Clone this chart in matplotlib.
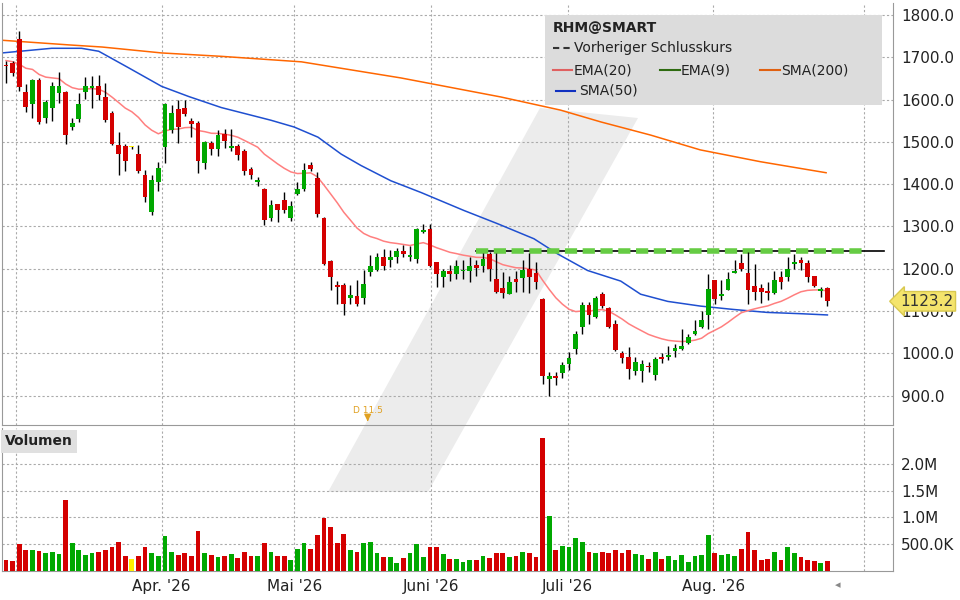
import matplotlib.pyplot as plt
import matplotlib.transforms as mtrans
from matplotlib.patches import Polygon, Rectangle
import numpy as np

# candles, one per trading day
opens = [1682, 1687, 1742, 1617, 1589, 1647, 1557, 1579, 1616, 1617, 1534, 1553, 1617, 1627, 1633, 1605,
         1569, 1492, 1490, 1489, 1471, 1421, 1335, 1405, 1488, 1528, 1577, 1581, 1550, 1544, 1449, 1497,
         1482, 1519, 1486, 1489, 1479, 1436, 1406, 1388, 1321, 1352, 1362, 1319, 1376, 1388, 1446, 1414,
         1319, 1219, 1162, 1162, 1132, 1136, 1130, 1192, 1197, 1229, 1220, 1228, 1241, 1228, 1224, 1287,
         1294, 1215, 1180, 1194, 1187, 1194, 1194, 1210, 1206, 1235, 1175, 1155, 1141, 1175, 1178, 1200,
         1190, 1128, 940, 947, 955, 974, 1011, 1062, 1115, 1086, 1140, 1108, 1069, 1000, 992, 959,
         959, 971, 950, 992, 992, 1006, 1011, 1025, 1046, 1063, 1091, 1173, 1136, 1151, 1190, 1214,
         1190, 1159, 1154, 1147, 1143, 1181, 1181, 1212, 1220, 1214, 1182, 1148, 1155]
closes = [1678, 1663, 1629, 1582, 1645, 1546, 1593, 1633, 1633, 1517, 1545, 1590, 1631, 1633, 1610, 1551,
          1496, 1472, 1454, 1488, 1432, 1370, 1409, 1439, 1589, 1567, 1536, 1565, 1541, 1455, 1499, 1484,
          1516, 1502, 1489, 1469, 1430, 1421, 1410, 1316, 1351, 1338, 1338, 1348, 1388, 1433, 1435, 1330,
          1211, 1180, 1158, 1118, 1138, 1118, 1164, 1206, 1227, 1207, 1229, 1241, 1235, 1232, 1293, 1291,
          1206, 1187, 1194, 1187, 1206, 1198, 1206, 1202, 1224, 1199, 1145, 1144, 1170, 1169, 1198, 1180,
          1169, 946, 946, 943, 972, 990, 1047, 1115, 1092, 1132, 1112, 1063, 1008, 990, 963, 979,
          975, 967, 987, 988, 996, 1013, 1018, 1038, 1054, 1079, 1152, 1129, 1140, 1175, 1196, 1200,
          1149, 1145, 1145, 1143, 1174, 1169, 1200, 1216, 1214, 1181, 1159, 1152, 1123.2]
highs = [1692, 1692, 1762, 1636, 1649, 1651, 1600, 1641, 1665, 1619, 1556, 1615, 1652, 1655, 1657, 1639,
         1573, 1524, 1496, 1491, 1492, 1433, 1421, 1452, 1591, 1587, 1599, 1599, 1556, 1549, 1503, 1503,
         1527, 1531, 1531, 1495, 1483, 1440, 1417, 1392, 1362, 1354, 1382, 1360, 1404, 1449, 1452, 1428,
         1322, 1221, 1171, 1166, 1162, 1174, 1198, 1232, 1237, 1247, 1245, 1249, 1257, 1253, 1297, 1305,
         1306, 1217, 1200, 1208, 1220, 1220, 1228, 1220, 1237, 1239, 1237, 1192, 1182, 1196, 1221, 1237,
         1216, 1130, 956, 956, 980, 1003, 1054, 1121, 1121, 1135, 1145, 1110, 1079, 1006, 1016, 992,
         984, 980, 991, 1002, 1017, 1022, 1057, 1047, 1079, 1101, 1187, 1174, 1173, 1192, 1220, 1236,
         1240, 1211, 1163, 1169, 1195, 1196, 1229, 1236, 1229, 1220, 1184, 1157, 1157]
lows = [1640, 1655, 1621, 1570, 1556, 1541, 1544, 1549, 1591, 1496, 1529, 1548, 1601, 1580, 1599, 1548,
        1492, 1421, 1432, 1484, 1427, 1359, 1327, 1385, 1451, 1520, 1498, 1562, 1512, 1427, 1436, 1468,
        1467, 1486, 1479, 1457, 1422, 1412, 1396, 1303, 1314, 1311, 1332, 1313, 1374, 1384, 1430, 1322,
        1208, 1150, 1118, 1092, 1118, 1112, 1118, 1182, 1195, 1197, 1205, 1213, 1227, 1219, 1213, 1285,
        1204, 1158, 1157, 1172, 1176, 1176, 1169, 1184, 1192, 1172, 1143, 1132, 1140, 1145, 1145, 1143,
        1153, 929, 899, 925, 942, 960, 998, 1045, 1070, 1084, 1108, 1061, 1006, 977, 939, 948,
        933, 957, 937, 977, 984, 991, 1008, 1023, 1043, 1061, 1057, 1118, 1126, 1149, 1189, 1196,
        1118, 1126, 1119, 1127, 1141, 1153, 1171, 1200, 1198, 1169, 1157, 1134, 1112]
volumes = [0.20, 0.18, 0.50, 0.40, 0.39, 0.37, 0.33, 0.35, 0.31, 1.33, 0.52, 0.40, 0.29, 0.33, 0.35, 0.39,
           0.44, 0.55, 0.28, 0.22, 0.28, 0.44, 0.33, 0.28, 0.66, 0.35, 0.29, 0.33, 0.28, 0.74, 0.33, 0.29,
           0.26, 0.28, 0.31, 0.24, 0.35, 0.28, 0.28, 0.53, 0.35, 0.28, 0.28, 0.20, 0.42, 0.53, 0.42, 0.68,
           0.99, 0.83, 0.53, 0.70, 0.39, 0.35, 0.52, 0.55, 0.33, 0.26, 0.26, 0.15, 0.24, 0.33, 0.50, 0.26,
           0.44, 0.44, 0.31, 0.22, 0.22, 0.17, 0.20, 0.20, 0.28, 0.24, 0.33, 0.33, 0.26, 0.28, 0.35, 0.33,
           0.26, 2.48, 1.03, 0.40, 0.46, 0.44, 0.61, 0.55, 0.35, 0.33, 0.35, 0.33, 0.40, 0.33, 0.40, 0.31,
           0.29, 0.22, 0.35, 0.22, 0.28, 0.20, 0.29, 0.17, 0.28, 0.29, 0.68, 0.33, 0.29, 0.31, 0.28, 0.42,
           0.72, 0.40, 0.20, 0.22, 0.35, 0.20, 0.44, 0.33, 0.26, 0.20, 0.18, 0.15, 0.18]
neutral_day = 19  # drawn in yellow

sma50_idx = [-0.6, 6.9, 11.4, 14, 18.5, 23.5, 27.6, 32.5, 40, 43.5, 47.1, 50.6, 53.6, 58.1, 62.7, 69.1,
             74.3, 79.7, 83.3, 87.8, 92.8, 95.8, 99.9, 104.8, 109.8, 114.9, 119.9, 124]
sma50_val = [1710, 1721, 1721, 1714, 1675, 1631, 1607, 1581, 1551, 1535, 1511, 1471, 1444, 1408, 1380, 1338,
             1306, 1271, 1235, 1196, 1171, 1140, 1123, 1112, 1104, 1097, 1094, 1091]
sma200_idx = [-0.6, 9.5, 14.5, 23.5, 32.5, 44.6, 59.6, 74.7, 83.7, 89.8, 97.3, 104.8, 113.9, 123.8]
sma200_val = [1740, 1729, 1724, 1710, 1702, 1689, 1651, 1606, 1575, 1547, 1516, 1481, 1453, 1427]

prev_level = 1241
prev_start = 71
month_pos = [1.5, 23.5, 43.5, 64.2, 84.8, 106.8, 129.5]
month_labels = ["", "Apr. '26", "Mai '26", "Juni '26", "Juli '26", "Aug. '26", ""]

RED = "#d40000"
GREEN = "#00a800"
GRID = dict(color="#aaaaaa", linestyle=(0, (2, 2)), linewidth=0.8)

o = np.array(opens, float)
c = np.array(closes, float)
h = np.array(highs, float)
l = np.array(lows, float)
v = np.array(volumes)
x = np.arange(len(c))
colors = [GREEN if cc > oo else RED for oo, cc in zip(o, c)]
colors[neutral_day] = "#ffee00"

ema = [c[0] + 14]
for val in c[1:]:
    ema.append(ema[-1] + (val - ema[-1]) * 2 / 21)

W, H = 960, 600
fig = plt.figure(figsize=(9.6, 6), dpi=100)
plt.rcParams["font.family"] = ["DejaVu Sans"]

# watermark
wm = Polygon([(328 / W, 1 - 492 / H), (428 / W, 1 - 492 / H), (638 / W, 1 - 118 / H), (540 / W, 1 - 108 / H)],
             closed=True, transform=fig.transFigure, facecolor="#ececec", edgecolor="none", zorder=-1)
fig.patches.append(wm)

ax = fig.add_axes([2 / W, 1 - 425 / H, 891 / W, 422 / H])
vax = fig.add_axes([2 / W, 1 - 571 / H, 891 / W, 143 / H], sharex=ax)
for a in (ax, vax):
    a.set_facecolor("none")
    for s in a.spines.values():
        s.set_color("#999999")
    a.spines["top"].set_visible(False)
    a.yaxis.tick_right()
    a.tick_params(axis="y", length=0, labelsize=11, colors="#222222", pad=6)
    a.set_xticks(month_pos)
    a.grid(True, **GRID)
    a.set_axisbelow(True)

ax.set_xlim(-0.6, 133.9)
ax.set_ylim(831, 1828)
ax.set_yticks(np.arange(900, 1801, 100))
ax.set_yticklabels([f"{t:.1f}" for t in np.arange(900, 1801, 100)])
ax.tick_params(axis="x", length=0, labelbottom=False)

# moving averages
ax.plot(sma200_idx, sma200_val, color="#ff6600", lw=1.1, zorder=2)
ax.plot(sma50_idx, sma50_val, color="#1f4fd0", lw=1.1, zorder=2)
ax.plot(x, ema, color="#ff7f7f", lw=1.1, zorder=2)

# previous close
ax.plot([prev_start, 132.5], [prev_level, prev_level], color="black", lw=1.2, zorder=3)
ax.plot([prev_start, 129.5], [prev_level, prev_level], color="#66cc44", lw=4,
        linestyle=(0, (2.2, 1)), zorder=3)

# candles
ax.vlines(x, l, h, color="black", lw=1, zorder=4)
ax.bar(x, np.maximum(np.abs(c - o), 3), bottom=np.minimum(o, c), width=0.72,
       color=colors, zorder=5)

# last price tag
tr = mtrans.blended_transform_factory(ax.transAxes, ax.transData)
ax.text(1.008, c[-1], f"{c[-1]:.1f}", transform=tr, va="center", ha="left", fontsize=11,
        color="#333333", bbox=dict(boxstyle="larrow,pad=0.15", fc="#f4e46c", ec="#d8c850"),
        clip_on=False, zorder=6)

# dividend marker
ax.text(54.6, 855, "D 11.5", color="#e0a020", fontsize=6.5, ha="center", va="bottom")
ax.annotate("", xy=(54.6, 833), xytext=(54.6, 852),
            arrowprops=dict(arrowstyle="-|>", color="#e0a020", lw=1))

# legend box
ax.add_patch(Rectangle((543 / 891, 1 - 102 / 422), 337 / 891, 90 / 422, transform=ax.transAxes,
                       facecolor="#dcdcdc", edgecolor="none", zorder=7))
def leg(px, py, s, **kw):
    ax.text((px - 2) / 891, 1 - (py - 3) / 422, s, transform=ax.transAxes, va="center",
            fontsize=10, color="#222222", zorder=8, **kw)
def legline(px0, px1, py, col, ls="-"):
    ax.plot([(px0 - 2) / 891, (px1 - 2) / 891], [1 - (py - 3) / 422] * 2, transform=ax.transAxes,
            color=col, lw=1.5, ls=ls, zorder=8)
leg(553, 28, "RHM@SMART", fontweight="bold")
legline(553, 572, 48, "#333333", ls=(0, (3, 2)))
leg(574, 48, "Vorheriger Schlusskurs")
legline(553, 572, 70, "#e06060")
leg(574, 70, "EMA(20)")
legline(660, 680, 70, "#2e6b10")
leg(681, 70, "EMA(9)")
legline(760, 780, 70, "#e06010")
leg(781, 70, "SMA(200)")
legline(556, 575, 91, "#1030c0")
leg(579, 91, "SMA(50)")

# volume panel
vax.bar(x, v, width=0.72, color=colors, zorder=3)
vax.set_ylim(0, 2.67)
vax.set_yticks([0.5, 1.0, 1.5, 2.0])
vax.set_yticklabels(["500.0K", "1.0M", "1.5M", "2.0M"])
vax.set_xticklabels(month_labels)
vax.tick_params(axis="x", length=0, labelsize=11, colors="#222222", pad=6)
vax.text(0.003, 0.955, "Volumen", transform=vax.transAxes, fontsize=10, fontweight="bold",
         va="top", ha="left", color="#222222",
         bbox=dict(boxstyle="square,pad=0.3", fc="#e0e0e0", ec="none"))
fig.text(838 / W, 1 - 585 / H, "◂", color="#888888", fontsize=8, ha="center", va="center")

fig.savefig("out.png", dpi=100)
